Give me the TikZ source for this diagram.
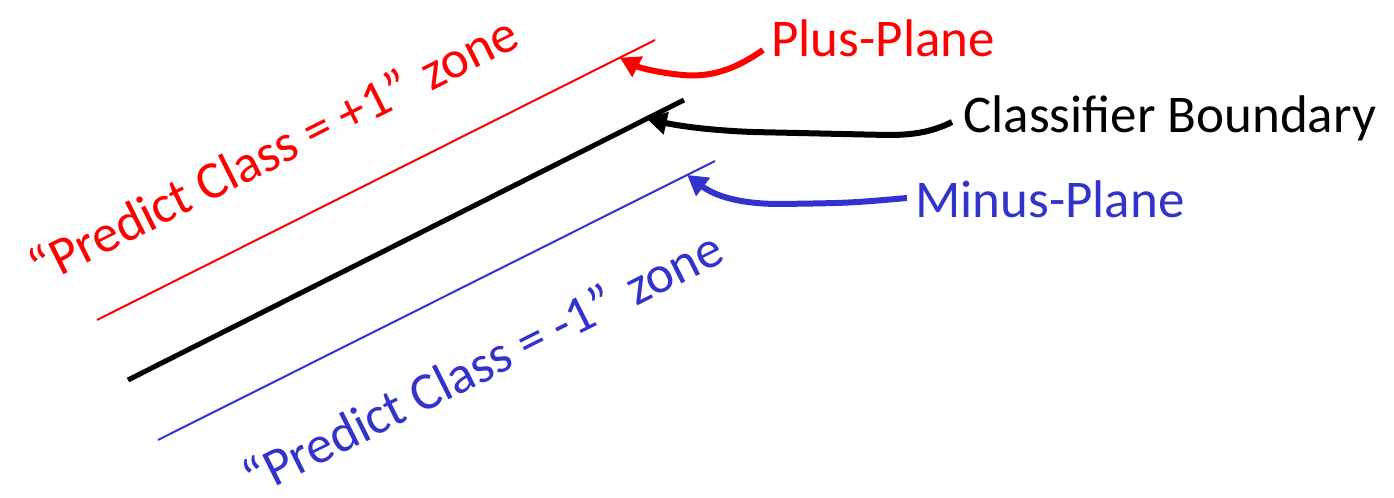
\documentclass[tikz,border=0pt]{standalone}
\usepackage{fontspec}
\setmainfont{Carlito}
\usetikzlibrary{arrows.meta,calc}
\definecolor{plusred}{RGB}{255,0,0}
\definecolor{minusblue}{RGB}{51,51,204}

\begin{document}
\begin{tikzpicture}[x=0.5pt,y=-0.5pt,
  lbl/.style={font=\fontsize{26.5}{30}\selectfont,inner sep=0pt,anchor=base west},
  zone/.style={lbl,rotate=26.6},
  pointer/.style={line width=3pt,-{Triangle[length=10pt,width=11pt]}}]
  \useasboundingbox (0,0) rectangle (1394,498);
  % planes
  \coordinate (plusA) at (97,320);
  \coordinate (plusB) at (655,40);
  \coordinate (bndA) at (128,380);
  \coordinate (bndB) at (684,100);
  \coordinate (minusA) at (158,440);
  \coordinate (minusB) at (715,161);
  \draw[plusred,line width=1pt] (plusA) -- (plusB);
  \draw[line width=2.5pt] (bndA) -- (bndB);
  \draw[minusblue,line width=1pt] (minusA) -- (minusB);
  \coordinate (plustip) at ($(plusA)!0.937!(plusB)$);
  \coordinate (bndtip) at ($(bndA)!0.933!(bndB)$);
  \coordinate (minustip) at ($(minusA)!0.95!(minusB)$);
  % labels
  \node[lbl,plusred] (plus) at (771,56) {Plus-Plane};
  \node[lbl] (bnd) at (963,132) {Classifier Boundary};
  \node[lbl,minusblue] (minus) at (915,217) {Minus-Plane};
  \node[zone,plusred] (pluszone) at (40,287) {“Predict Class = +1”\hspace{0.12em} zone};
  \node[zone,minusblue] (minuszone) at (254,498) {“Predict Class = -1”\hspace{0.12em} zone};
  % pointers
  \draw[pointer,plusred] ($(plus.base west)+(-8,-6)$)
    .. controls (740,66) and (715,78) .. (683,75)
    .. controls (660,73) and (640,68) .. (plustip);
  \draw[pointer] ($(bnd.base west)+(-11,-10)$)
    .. controls (930,133) and (910,135) .. (887,135) -- (753,132)
    .. controls (700,130) and (670,124) .. (bndtip);
  \draw[pointer,minusblue] ($(minus.base west)+(-8,-19)$)
    .. controls (850,203) .. (780,204)
    .. controls (740,204) and (715,196) .. (minustip);
\end{tikzpicture}
\end{document}
